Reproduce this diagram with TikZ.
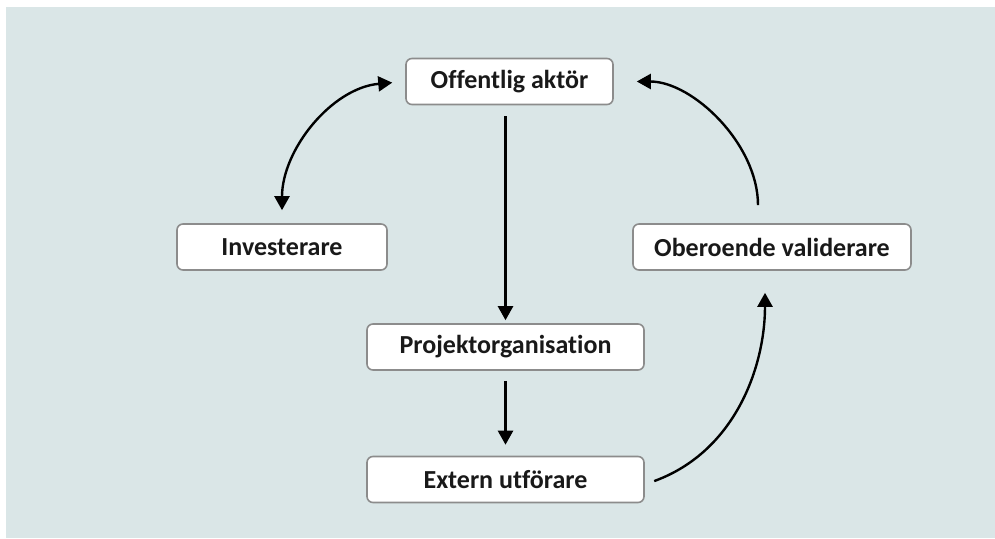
\documentclass[tikz,border=0pt]{standalone}
\usepackage{fontspec}
\setmainfont{Carlito}[Ligatures=NoCommon]
\usetikzlibrary{arrows.meta}

\tikzset{
    box/.style={draw=boxgray, line width=1.6pt, fill=white, rounded corners=6pt,
        minimum height=46pt, font=\bfseries\fontsize{26}{30}\selectfont, text=black!90},
    flow/.style={line width=2.4pt, -{Triangle[length=14pt,width=15pt]}},
}
\definecolor{boxgray}{RGB}{140,140,140}
\definecolor{bgblue}{RGB}{218,230,231}

\begin{document}
\begin{tikzpicture}[x=1pt, y=-1pt]
        % background
        \useasboundingbox (0,0) rectangle (995,538);
        \fill[bgblue] (6,7) rectangle (995,538);

        % Draw the boxes
        \node[box, minimum width=207pt] (off) at (509.5, 81.5) {Offentlig aktör};
        \node[box, minimum width=210pt] (inv) at (282, 247) {Investerare};
        \node[box, minimum width=278pt] (val) at (772, 247) {Oberoende validerare};
        \node[box, minimum width=277pt] (proj) at (505.5, 347) {Projektorganisation};
        \node[box, minimum width=277pt] (ext) at (505.5, 479.5) {Extern utförare};

        % Draw the arrows
        \draw[flow, {Triangle[length=14pt,width=15pt]}-{Triangle[length=14pt,width=15pt]},
            shorten <=13pt, shorten >=13pt] (inv.north) to[out=90, in=185] (off.west);
        \draw[flow, shorten <=11pt, shorten >=3pt] (off.south -| proj.north) -- (proj.north);
        \draw[flow, shorten <=10pt, shorten >=11pt] (proj.south) -- (ext.north);
        \draw[flow, shorten <=10pt, shorten >=22pt] ([yshift=-5pt]ext.east) to[out=20, in=-90] ([xshift=-7pt]val.south);
        \draw[flow, shorten <=18pt, shorten >=23pt] ([xshift=-14pt]val.north) to[out=90, in=0] (off.east);
    \end{tikzpicture}
\end{document}
